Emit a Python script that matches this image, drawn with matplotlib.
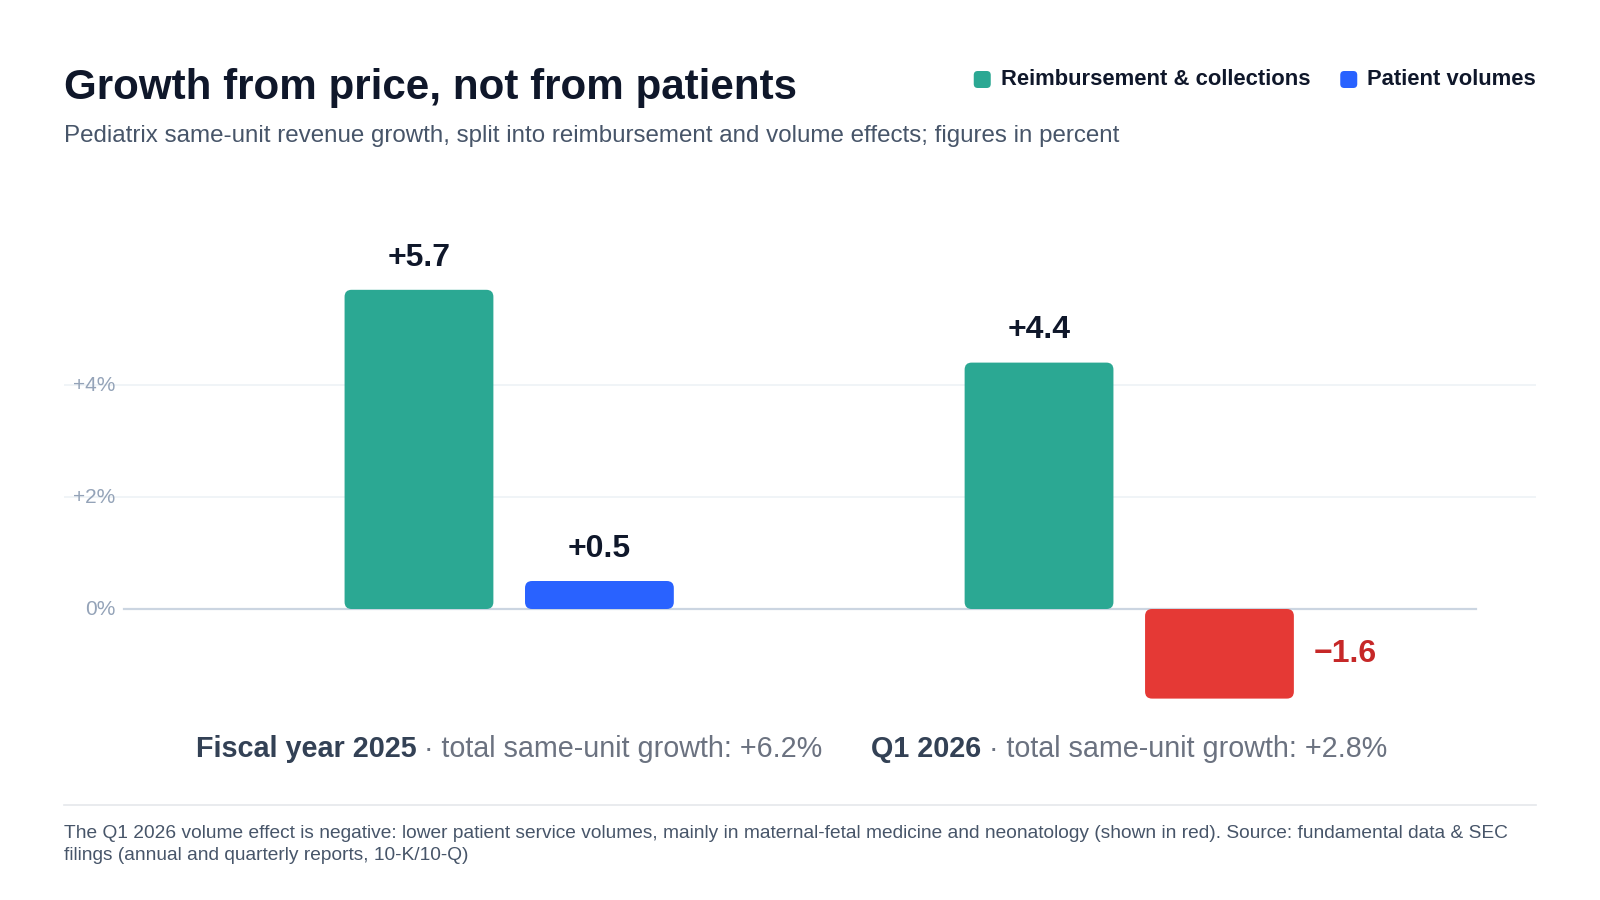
import matplotlib
matplotlib.use("Agg")
import matplotlib.pyplot as plt
from matplotlib.patches import FancyBboxPatch
from matplotlib.lines import Line2D

plt.rcParams['font.family'] = ['Liberation Sans', 'DejaVu Sans']

# data
groups = ["Fiscal year 2025", "Q1 2026"]
group_totals = ["+6.2%", "+2.8%"]
series = ["Reimbursement & collections", "Patient volumes"]
reimbursement = [5.7, 4.4]
volumes = [0.5, -1.6]
yticks = [0, 2, 4]
ytick_labels = ["0%", "+2%", "+4%"]

TEAL = "#2ba893"
BLUE = "#2962ff"
RED = "#e53935"
RED_TXT = "#c62828"
INK = "#0f172a"
SLATE = "#475569"
MUTED = "#94a3b8"

W, H = 1600, 900
fig = plt.figure(figsize=(16, 9), dpi=100)
fig.patch.set_facecolor("white")


def fx(px):
    return px / W


def fy(py):
    return (H - py) / H


# axes: pixel box 64..1536 x 230..700
ax = fig.add_axes([fx(64), fy(700), fx(1472), (700 - 230) / H])
ax.set_xlim(-0.718, 1.656)
ax.set_ylim(-1.625, 6.768)
ax.axis("off")

# gridlines
for t in yticks[1:]:
    ax.axhline(t, color="#eef2f6", lw=1.2, zorder=0)
ax.axhline(0, xmin=0.041, xmax=0.959, color="#cbd5e1", lw=1.6, zorder=1)

for t, lab in zip(yticks, ytick_labels):
    ax.text((115 - 64) / 1472, t, lab, transform=ax.get_yaxis_transform(),
            ha="right", va="center", fontsize=15, color=MUTED)

offset = 0.1455
width = 0.24
xs = list(range(len(groups)))
b1 = ax.bar([x - offset for x in xs], reimbursement, width, color=TEAL)
vol_colors = [BLUE if v >= 0 else RED for v in volumes]
b2 = ax.bar([x + offset for x in xs], volumes, width, color=vol_colors)

# replace bars by rounded ones
fig.canvas.draw()
x0p, y0p = ax.transData.transform((0, 0))
x1p, y1p = ax.transData.transform((1, 1))
aspect = (x1p - x0p) / (y1p - y0p)
radius_px = 7
rs = radius_px / (x1p - x0p)
for bars in (b1, b2):
    for r in bars:
        x, y = r.get_x(), r.get_y()
        w, h = r.get_width(), r.get_height()
        if h < 0:
            y, h = y + h, -h
        p = FancyBboxPatch((x, y), w, h,
                           boxstyle=f"round,pad=0,rounding_size={rs}",
                           mutation_aspect=aspect,
                           facecolor=r.get_facecolor(), edgecolor="none", zorder=2)
        r.remove()
        ax.add_patch(p)

# value labels
for x, v in zip(xs, reimbursement):
    ax.annotate(f"+{v:.1f}", (x - offset, v), xytext=(0, 17.5), textcoords="offset points",
                ha="center", va="baseline", fontsize=23, fontweight="bold", color=INK)
for x, v in zip(xs, volumes):
    if v >= 0:
        ax.annotate(f"+{v:.1f}", (x + offset, v), xytext=(0, 17.5), textcoords="offset points",
                    ha="center", va="baseline", fontsize=23, fontweight="bold", color=INK)
    else:
        ax.annotate(f"\u2212{abs(v):.1f}", (x + offset + width / 2, v / 2), xytext=(14.5, 0),
                    textcoords="offset points", ha="left", va="center",
                    fontsize=23, fontweight="bold", color=RED_TXT)

# group labels (bold name + muted total)
renderer = fig.canvas.get_renderer()
for x, g, tot in zip(xs, groups, group_totals):
    cx = ax.transData.transform((x, 0))[0]
    t1 = fig.text(0, fy(749), g, fontsize=20.7, fontweight="bold", color="#334155",
                  ha="left", va="center")
    t2 = fig.text(0, fy(749), f" \u00b7 total same-unit growth: {tot}", fontsize=20.7,
                  color="#6b7280", ha="left", va="center")
    w1 = t1.get_window_extent(renderer).width
    w2 = t2.get_window_extent(renderer).width
    start = cx - (w1 + w2) / 2
    t1.set_x(fx(start))
    t2.set_x(fx(start + w1))

# title + subtitle
fig.text(fx(64), fy(99), "Growth from price, not from patients", fontsize=30.3,
         fontweight="bold", color=INK, ha="left", va="baseline")
fig.text(fx(64), fy(136),
         "Pediatrix same-unit revenue growth, split into reimbursement and volume effects; figures in percent",
         fontsize=17.4, color=SLATE, ha="left", va="center")

# legend, laid out from the right edge
leg_colors = [TEAL, BLUE]
right = 1536
leg_y = 79.5
for name, col in reversed(list(zip(series, leg_colors))):
    t = fig.text(fx(right), fy(leg_y), name, fontsize=15.8, fontweight="bold", color=INK,
                 ha="right", va="center")
    tw = t.get_window_extent(renderer).width
    sq_right = right - tw - 10
    sq = FancyBboxPatch((fx(sq_right - 17), fy(leg_y + 8.5)), fx(17), 17 / H,
                        boxstyle="round,pad=0,rounding_size=0.0025",
                        mutation_aspect=W / H,
                        transform=fig.transFigure, facecolor=col, edgecolor="none")
    fig.patches.append(sq)
    right = sq_right - 17 - 30

# footer
fig.add_artist(Line2D([fx(64), fx(1536)], [fy(805), fy(805)], color="#e5e7eb", lw=1.2))
fig.text(fx(64), fy(834),
         "The Q1 2026 volume effect is negative: lower patient service volumes, mainly in maternal-fetal medicine and neonatology (shown in red). Source: fundamental data & SEC",
         fontsize=13.75, color=SLATE, ha="left", va="center")
fig.text(fx(64), fy(856), "filings (annual and quarterly reports, 10-K/10-Q)",
         fontsize=13.75, color=SLATE, ha="left", va="center")

fig.savefig("out.png", dpi=100, facecolor="white")
